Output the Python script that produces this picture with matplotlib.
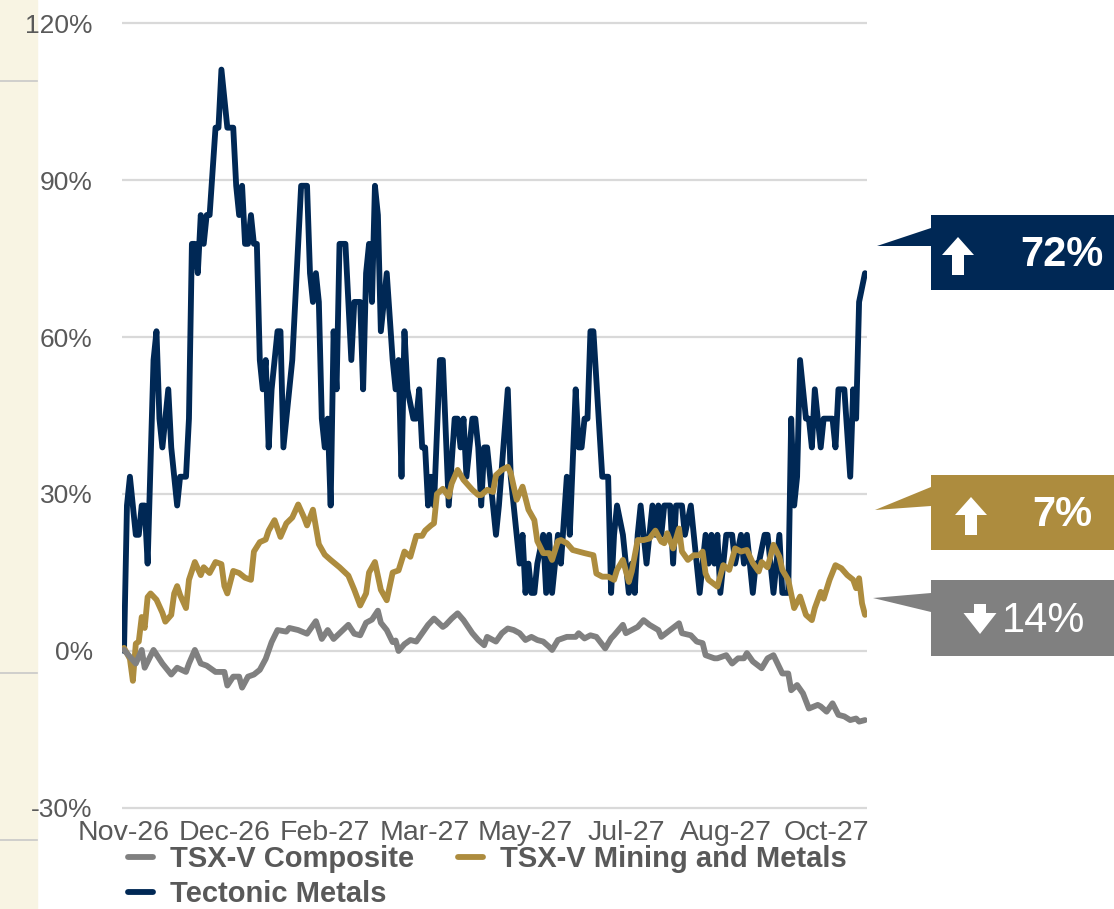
import matplotlib
matplotlib.use('Agg')
import matplotlib.pyplot as plt
from matplotlib.patches import Polygon, Rectangle
from matplotlib.lines import Line2D

plt.rcParams['font.family'] = ['Liberation Sans', 'DejaVu Sans']

# trading-day index (0 = first day of Nov-26) and % change since start
tectonic = [(0, 0), (1, 27.8), (2, 33.3), (4, 22.2), (5, 22.2), (6, 27.8), (7, 27.8), (8, 16.7),
            (10, 55.6), (11, 61.1), (12, 44.4), (13, 38.9), (15, 50), (16, 38.9), (18, 27.8),
            (19, 33.3), (21, 33.3), (22, 44.4), (23, 77.8), (24, 77.8), (25, 72.2), (26, 83.3),
            (27, 77.8), (28, 83.3), (29, 83.3), (31, 100), (32, 100), (33, 111.1), (35, 100),
            (37, 100), (38, 88.9), (39, 83.3), (40, 88.9), (41, 77.8), (42, 77.8), (43, 83.3),
            (44, 77.8), (45, 77.8), (46, 55.6), (47, 50), (48, 55.6), (49, 38.9), (50, 50),
            (52, 61.1), (53, 61.1), (54, 38.9), (55, 44.4), (57, 55.6), (58, 66.7), (59, 77.8),
            (60, 88.9), (62, 88.9), (63, 72.2), (64, 66.7), (65, 72.2), (66, 66.7), (67, 44.4),
            (68, 38.9), (69, 44.4), (70, 27.8), (71, 61.1), (72, 50), (73, 77.8), (75, 77.8),
            (76, 66.7), (77, 55.6), (78, 66.7), (80, 66.7), (81, 50), (82, 72.2), (83, 77.8),
            (84, 66.7), (85, 88.9), (86, 83.3), (87, 61.1), (88, 66.7), (89, 72.2), (91, 55.6),
            (92, 50), (93, 55.6), (94, 33.3), (95, 61.1), (96, 50), (98, 44.4), (99, 44.4),
            (100, 50), (101, 38.9), (102, 38.9), (103, 27.8), (104, 33.3), (105, 27.8),
            (107, 55.6), (108, 55.6), (110, 27.8), (112, 44.4), (113, 44.4), (114, 38.9),
            (115, 44.4), (116, 33.3), (118, 44.4), (119, 44.4), (120, 38.9), (121, 27.8),
            (122, 38.9), (123, 38.9), (124, 33.3), (126, 22.2), (127, 27.8), (130, 50),
            (131, 33.3), (133, 22.2), (134, 16.7), (135, 22.2), (136, 11.1), (137, 16.7),
            (138, 11.1), (139, 11.1), (140, 16.7), (142, 22.2), (143, 11.1), (144, 22.2),
            (145, 11.1), (147, 22.2), (148, 16.7), (150, 33.3), (151, 22.2), (153, 50),
            (154, 38.9), (155, 38.9), (156, 44.4), (157, 44.4), (158, 61.1), (159, 61.1),
            (162, 33.3), (164, 33.3), (165, 11.1), (166, 22.2), (167, 27.8), (169, 22.2),
            (170, 16.7), (171, 11.1), (172, 16.7), (173, 11.1), (174, 22.2), (175, 27.8),
            (176, 22.2), (177, 16.7), (178, 22.2), (179, 27.8), (180, 22.2), (181, 27.8),
            (182, 22.2), (183, 27.8), (185, 27.8), (186, 16.7), (187, 27.8), (189, 27.8),
            (190, 22.2), (192, 27.8), (193, 22.2), (195, 11.1), (197, 22.2), (198, 16.7),
            (199, 22.2), (200, 16.7), (201, 22.2), (202, 11.1), (203, 16.7), (204, 22.2),
            (206, 22.2), (207, 16.7), (209, 22.2), (210, 16.7), (211, 22.2), (212, 16.7),
            (213, 11.1), (214, 16.7), (215, 16.7), (217, 22.2), (218, 22.2), (220, 11.1),
            (221, 16.7), (222, 22.2), (223, 11.1), (224, 11.1), (225, 11.1), (226, 44.4),
            (227, 27.8), (228, 33.3), (229, 55.6), (231, 44.4), (232, 44.4), (233, 38.9),
            (234, 50), (236, 38.9), (237, 44.4), (238, 44.4), (240, 44.4), (241, 38.9),
            (242, 50), (244, 50), (246, 33.3), (247, 50), (248, 44.4), (249, 66.7), (251, 72.2)]

mining = [(0, 0.6), (2, -1.5), (3, -5.7), (4, 1.4), (5, 1.8), (6, 6.5), (7, 4.4), (8, 10.3),
          (9, 11), (11, 9.8), (13, 7.3), (14, 5.6), (16, 6.9), (17, 11), (18, 12.4), (19, 10.7),
          (21, 8.2), (22, 13.6), (24, 17), (26, 14.5), (27, 16), (29, 14.9), (31, 17), (33, 16.6),
          (34, 12.4), (35, 11), (37, 15.3), (39, 14.9), (41, 14), (43, 13.6), (44, 19), (46, 20.8),
          (48, 21.3), (49, 23), (51, 25), (53, 21.8), (55, 24.4), (57, 25.5), (59, 28), (61, 25.5),
          (62, 24), (64, 27), (66, 20.4), (68, 18.4), (70, 17.4), (73, 16), (76, 14.4), (78, 11.7),
          (80, 8.7), (82, 11), (83, 15), (85, 17), (87, 11.7), (89, 9.7), (91, 15), (93, 15.4),
          (95, 19), (97, 18), (99, 22), (101, 22), (102, 23), (104, 24), (105, 24.4), (106, 30),
          (108, 31), (110, 29.5), (111, 32), (113, 34.6), (115, 32.7), (118, 30.8), (120, 29.8),
          (121, 29.8), (123, 30.8), (125, 30.4), (126, 33.6), (128, 34.6), (130, 35.2), (131, 34),
          (133, 28.9), (135, 31.4), (137, 27), (139, 25), (140, 21), (142, 18.7), (144, 18.7),
          (145, 17.4), (147, 21), (148, 21.2), (150, 20.6), (152, 19.3), (154, 19), (156, 18.7),
          (159, 18.3), (160, 14.8), (162, 14.2), (164, 14.2), (166, 13.6), (167, 15.5), (169, 17.4),
          (171, 13.2), (172, 15.2), (174, 21.2), (176, 21.2), (178, 21.5), (180, 23), (182, 20.9),
          (183, 20.6), (184, 22.5), (186, 19.6), (188, 23.4), (189, 19), (191, 17.4), (193, 18.3),
          (195, 18.3), (196, 19), (197, 14.8), (198, 13.6), (201, 12.3), (203, 16.4), (205, 15.5),
          (207, 19.6), (209, 19), (211, 19.3), (213, 16.8), (215, 15.2), (216, 17), (218, 16),
          (220, 20.3), (222, 18), (223, 15.5), (225, 13.6), (227, 8.2), (229, 10.4), (231, 6.9),
          (233, 5.9), (234, 8.2), (236, 11.3), (237, 10), (239, 13.6), (241, 16.4), (243, 15.8),
          (245, 14.5), (247, 13.6), (248, 12), (249, 13.9), (250, 9.1), (251, 6.9)]

composite = [(0, 0.2), (2, -1.1), (4, -2.4), (6, 0.2), (7, -3.2), (10, 0.2), (13, -2.4), (16, -4.5),
             (18, -3.2), (21, -4), (22, -2.4), (24, 0.2), (26, -2.4), (28, -2.8), (31, -4), (34, -4),
             (35, -6.6), (37, -4.9), (39, -4.9), (40, -7), (42, -4.9), (44, -4.5), (46, -3.6),
             (48, -1.5), (50, 1.7), (52, 4), (55, 3.7), (56, 4.4), (59, 4), (62, 3.3), (65, 5.7),
             (67, 2.3), (69, 4), (71, 2.3), (76, 5), (78, 3.3), (80, 3), (82, 5.4), (84, 6), (86, 7.7),
             (87, 5.4), (89, 4), (91, 1.7), (92, 2), (93, 0), (95, 1.3), (97, 2.1), (99, 1.8),
             (101, 3.4), (103, 5), (105, 6.2), (108, 4.6), (109, 5), (111, 6.2), (113, 7.2),
             (115, 5.9), (118, 3.4), (120, 2.1), (122, 1.1), (123, 2.7), (126, 1.8), (128, 3.4),
             (130, 4.3), (132, 4), (134, 3.4), (136, 2.1), (138, 2.7), (140, 2.1), (142, 1.8),
             (144, 0.8), (145, 0.2), (147, 2.1), (150, 2.7), (153, 2.7), (154, 3.4), (156, 2.4),
             (158, 3), (160, 2.7), (163, 0.5), (165, 2.4), (166, 3), (169, 5), (170, 3.4), (172, 4),
             (174, 4.6), (176, 5.9), (178, 5), (181, 4), (182, 2.7), (185, 4), (188, 5.3), (189, 3.4),
             (192, 3), (194, 1.8), (196, 1.5), (197, -0.8), (200, -1.4), (201, -1.4), (204, -0.8),
             (206, -2.4), (208, -1.4), (210, -1.4), (211, -0.4), (213, -2), (216, -3.3), (218, -1.4),
             (220, -0.8), (223, -4.3), (225, -4.3), (226, -7.5), (228, -6.5), (230, -8.1), (232, -11),
             (235, -10.3), (236, -10.6), (238, -11.6), (240, -10), (242, -12.2), (244, -12.5),
             (246, -13.2), (248, -12.9), (249, -13.5), (251, -13.2)]

tick_days = [0, 34, 68, 102, 136, 170, 204, 238]
tick_labels = ['Nov-26', 'Dec-26', 'Feb-27', 'Mar-27', 'May-27', 'Jul-27', 'Aug-27', 'Oct-27']
y_ticks = [-30, 0, 30, 60, 90, 120]
end_change = {'Tectonic Metals': 72, 'TSX-V Mining and Metals': 7, 'TSX-V Composite': -14}

NAVY, GOLD, GREY = '#002855', '#AD8C3E', '#808080'
TXT = '#595959'

W, H = 1114, 909
fig = plt.figure(figsize=(W / 100, H / 100), dpi=100)


def fx(px):
    return px / W


def fy(py):
    return 1 - py / H


def arrow_icon(cx, cy, w, h, head, shaft, up=True):
    # block arrow outline in pixel coords, returned in figure fraction
    s = -1 if up else 1
    tip = cy + s * h / 2
    base = tip - s * head
    tail = cy - s * h / 2
    pts = [(cx, tip), (cx + w / 2, base), (cx + shaft / 2, base), (cx + shaft / 2, tail),
           (cx - shaft / 2, tail), (cx - shaft / 2, base), (cx - w / 2, base)]
    return [(fx(x), fy(y)) for x, y in pts]


# cream strip on the left edge
fig.patches.append(Rectangle((0, 0), fx(37), 1, transform=fig.transFigure,
                             color='#F8F4E3', zorder=-5))
for py in [81, 673, 840]:
    fig.add_artist(Line2D([0, fx(37)], [fy(py), fy(py)], color='#C8C8C8', lw=1.2, zorder=-4))

ax = fig.add_axes([fx(122), fy(810.6), fx(867) - fx(122), fy(20.4) - fy(810.6)])
ax.patch.set_alpha(0)
ax.set_xlim(-0.68, 251.68)
ax.set_ylim(-30.5, 120.5)

d, v = zip(*tectonic)
ln_t, = ax.plot(d, v, color=NAVY, lw=4.2, solid_capstyle='round', zorder=3)
d, v = zip(*mining)
ln_m, = ax.plot(d, v, color=GOLD, lw=4.2, solid_capstyle='round', zorder=4)
d, v = zip(*composite)
ln_c, = ax.plot(d, v, color=GREY, lw=4.2, solid_capstyle='round', zorder=5)

ax.set_yticks(y_ticks)
ax.set_yticklabels(['%d%%' % t for t in y_ticks])
ax.set_xticks(tick_days)
ax.set_xticklabels(tick_labels)
ax.tick_params(axis='y', length=0, pad=21, labelsize=19, labelcolor=TXT)
ax.tick_params(axis='x', length=0, pad=7, labelsize=20.5, labelcolor=TXT)
ax.grid(axis='y', color='#D9D9D9', lw=1.6)
ax.set_axisbelow(True)
for s in ax.spines.values():
    s.set_visible(False)

leg = fig.legend([ln_c, ln_t, ln_m],
                 ['TSX-V Composite', 'Tectonic Metals', 'TSX-V Mining and Metals'],
                 ncol=2, loc='upper left', bbox_to_anchor=(fx(128), fy(845)),
                 frameon=False, borderpad=0, borderaxespad=0,
                 handlelength=0.85, handletextpad=0.6, columnspacing=1.5,
                 labelspacing=0.25, prop={'size': 21, 'weight': 'bold'})
for t in leg.get_texts():
    t.set_color(TXT)

# callouts on the right
callouts = [
    ('Tectonic Metals', NAVY, 215, 290, (877, 246), 228, 246),
    ('TSX-V Mining and Metals', GOLD, 475, 550, (875, 510), 487, 506),
    ('TSX-V Composite', GREY, 580, 656, (873, 598), 593, 612),
]
for name, col, top, bot, tip, b1, b2 in callouts:
    pts = [tip, (931, b1), (931, top), (W, top), (W, bot), (931, bot), (931, b2)]
    fig.patches.append(Polygon([(fx(x), fy(y)) for x, y in pts], closed=True,
                               transform=fig.transFigure, facecolor=col,
                               edgecolor='none', zorder=1))
    val = end_change[name]
    ym = (top + bot) / 2
    if name == 'Tectonic Metals':
        icon = arrow_icon(958, ym + 3.5, 32, 38, 18, 12, up=True)
        fig.text(fx(1104), fy(ym + 3), '%d%%' % abs(val), color='white',
                 fontsize=30, weight='bold', ha='right', va='center')
    elif val >= 0:
        icon = arrow_icon(971, ym + 3.5, 32, 38, 18, 12, up=True)
        fig.text(fx(1092), fy(ym + 3), '%d%%' % abs(val), color='white',
                 fontsize=30, weight='bold', ha='right', va='center')
    else:
        icon = arrow_icon(980, ym + 1, 33, 30, 21, 12, up=False)
        fig.text(fx(1002), fy(ym + 3), '%d%%' % abs(val), color='white',
                 fontsize=30, ha='left', va='center')
    fig.patches.append(Polygon(icon, closed=True, transform=fig.transFigure,
                               facecolor='white', edgecolor='none', zorder=2))

fig.savefig('out.png', dpi=100)
